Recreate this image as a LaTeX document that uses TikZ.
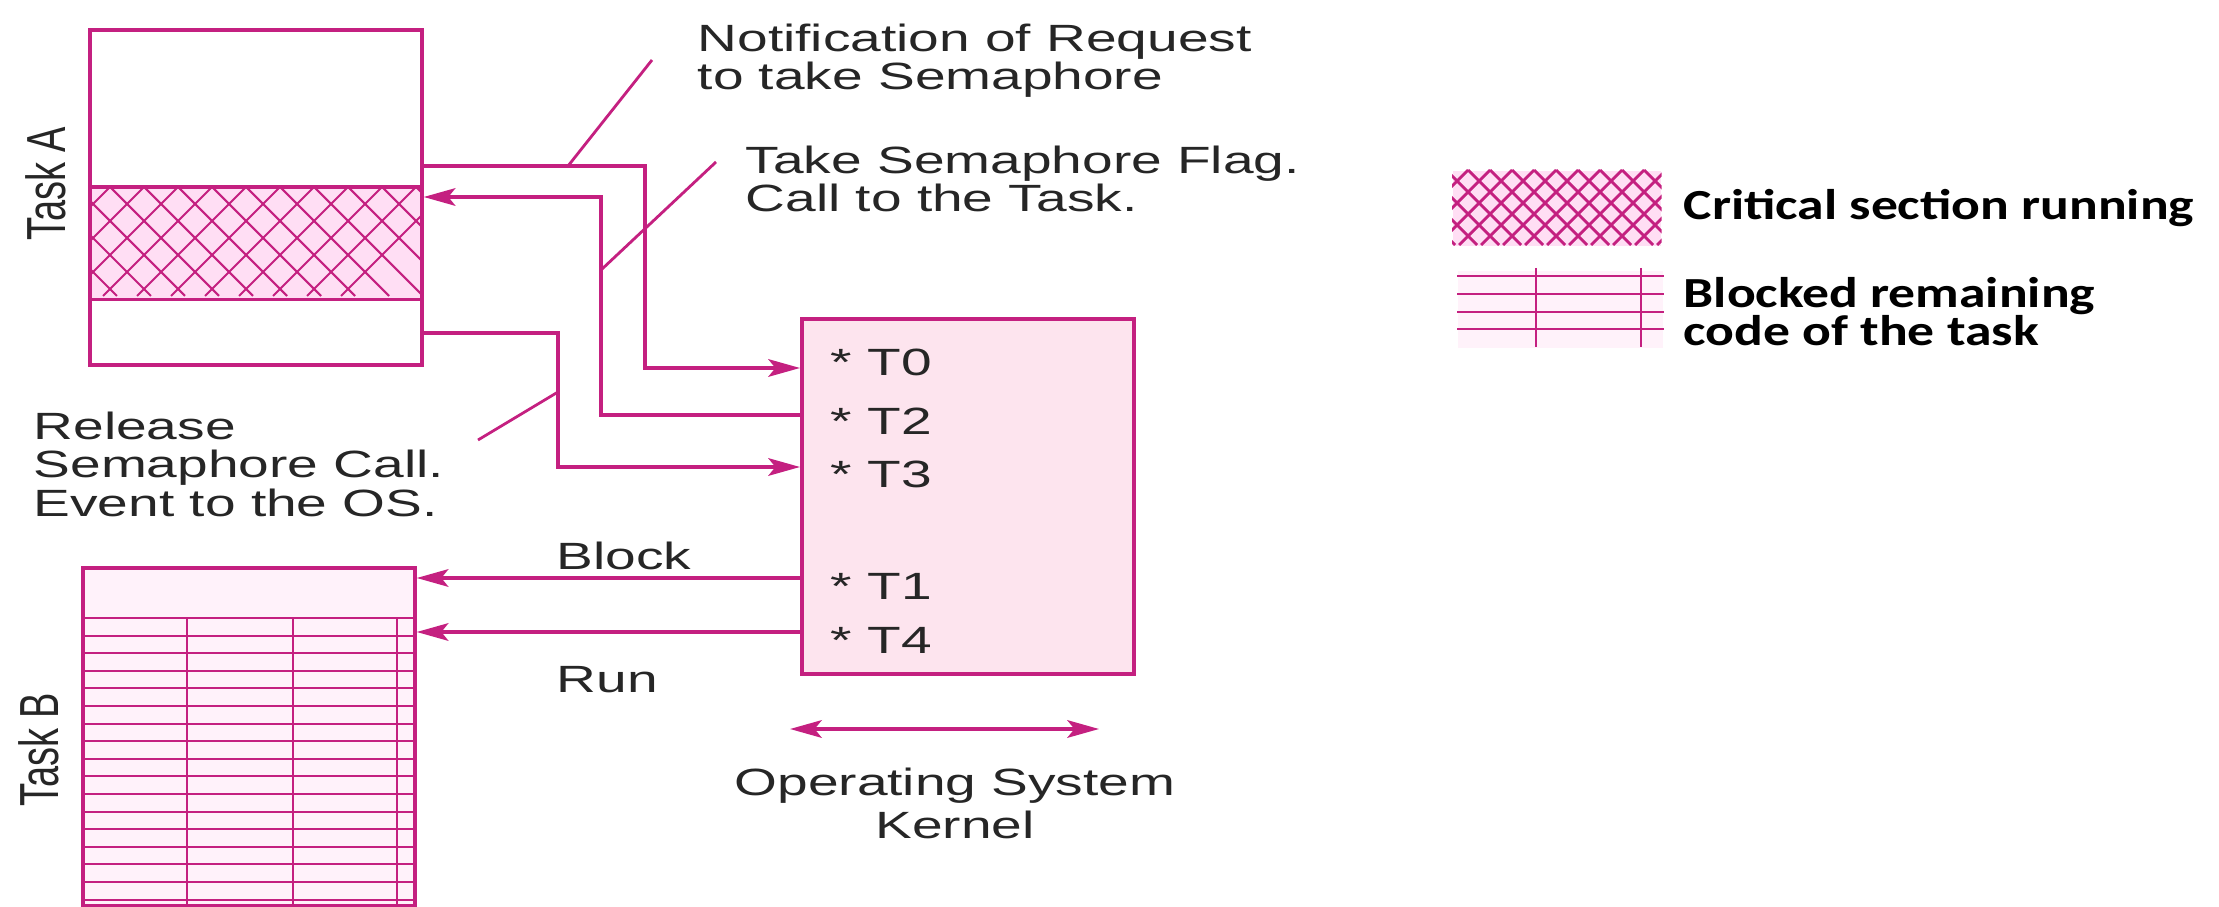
\documentclass[tikz,border=0pt]{standalone}
\usepackage{fontspec}
\setmainfont{Liberation Sans}[FakeStretch=1.45]
\newfontfamily\plainsans{Liberation Sans}
\newfontfamily\legendfont{Carlito}[FakeStretch=1.25]
\usetikzlibrary{arrows.meta}
\definecolor{mag}{RGB}{196,32,128}
\definecolor{kernfill}{RGB}{253,228,238}
\definecolor{hatchfill}{RGB}{255,222,244}
\definecolor{gridfill}{RGB}{255,242,250}
\definecolor{txtc}{RGB}{38,38,38}
\tikzset{
  tip/.tip={Stealth[length=9pt,width=5pt,inset=2pt]},
  wire/.style={draw=mag, line width=1pt},
  arr/.style={wire, -tip},
  dblarr/.style={wire, tip-tip},
  leader/.style={draw=mag, line width=0.8pt},
  hatchline/.style={draw=mag, line width=0.6pt},
  taskbox/.style={draw=mag, line width=1pt, inner sep=0, anchor=north west},
  lbl/.style={font=\fontsize{10.8}{12}\selectfont, text=txtc, inner sep=0, anchor=base west},
  tlbl/.style={font=\fontsize{10.8}{12}\selectfont, text=txtc, inner sep=0, anchor=base west},
  side/.style={font=\plainsans\fontsize{10.8}{11}\selectfont, text=txtc, inner sep=0, rotate=90},
  leg/.style={font=\legendfont\bfseries\fontsize{12.2}{12}\selectfont, text=black, inner sep=0, anchor=base west}
}
\begin{document}
\begin{tikzpicture}[x=0.01cm, y=-0.01cm]
\useasboundingbox (0,0) rectangle (2219,907);

% ---------- Task A: code block with its critical section ----------
\node[taskbox, draw=none, fill=hatchfill, minimum width=3.32cm, minimum height=1.09cm] (critA) at (88,187) {};
\begin{scope}
  \clip (critA.north west) rectangle (critA.south east);
  \foreach \x in {-60,-26,...,470} {
    \draw[hatchline] (\x,187) -- ++(109,109);
    \draw[hatchline] (\x,187) -- ++(-109,109);
  }
\end{scope}
\node[taskbox, minimum width=3.32cm, minimum height=3.35cm] (taskA) at (88,28) {};
\draw[wire] (critA.north west) -- (critA.north east);
\draw[wire] (critA.south west) -- (critA.south east);
\node[side] (taskAl) at (46,184) {\scalebox{1}[1.45]{Task A}};

% ---------- kernel ----------
\node[taskbox, fill=kernfill, minimum width=3.32cm, minimum height=3.55cm] (kern) at (800,317) {};
\node[tlbl] (t0) at (830,376) {* T0};
\node[tlbl] (t2) at (830,435) {* T2};
\node[tlbl] (t3) at (830,488) {* T3};
\node[tlbl] (t1) at (830,600) {* T1};
\node[tlbl] (t4) at (830,653) {* T4};

% ---------- Task B: blocked code ----------
\node[taskbox, fill=gridfill, minimum width=3.32cm, minimum height=3.38cm] (taskB) at (81,566) {};
\foreach \y in {618,635.6,...,900} {
  \draw[hatchline] (taskB.west |- 0,\y) -- (taskB.east |- 0,\y);
}
\foreach \x in {187,293,397} {
  \draw[hatchline] (\x,618) -- (\x,904);
}
\node[side] (taskBl) at (39,750) {\scalebox{1}[1.45]{Task B}};

% ---------- connectors ----------
\coordinate (nv) at (645,166);
\coordinate (tv) at (601,197);
\coordinate (rv) at (558,333);
\draw[arr] (taskA.east |- nv) -- (nv) -- (nv |- 0,368) -- (kern.west |- 0,368);
\draw[arr] (kern.west |- 0,415) -- (tv |- 0,415) -- (tv) -- (taskA.east |- tv);
\draw[arr] (taskA.east |- rv) -- (rv) -- (rv |- 0,467) -- (kern.west |- 0,467);
\draw[arr] (kern.west |- 0,578) -- (taskB.east |- 0,578);
\draw[arr] (kern.west |- 0,632) -- (taskB.east |- 0,632);

% ---------- callouts ----------
\node[lbl] (notif1) at (697,52) {Notification of Request};
\node[lbl] (notif2) at (697,90) {to take Semaphore};
\node[lbl] (take1) at (745,174) {Take Semaphore Flag.};
\node[lbl] (take2) at (745,212) {Call to the Task.};
\node[lbl] (rel1) at (33,440) {Release};
\node[lbl] (rel2) at (33,478) {Semaphore Call.};
\node[lbl] (rel3) at (33,517) {Event to the OS.};
\coordinate (nl) at (652,60);
\coordinate (tl) at (716,162);
\coordinate (rl) at (478,440);
\draw[leader] (568,166) -- (nl);
\draw[leader] (601,270) -- (tl);
\draw[leader] (558,392) -- (rl);

\node[lbl] (blk) at (556,570) {Block};
\node[lbl] (run) at (556,692) {Run};

\coordinate (osl) at (790,729);
\coordinate (osr) at (1099,729);
\draw[dblarr] (osl) -- (osr);
\node[lbl, anchor=base] (os1) at (955,795) {Operating System};
\node[lbl, anchor=base] (os2) at (955,838) {Kernel};

% ---------- legend ----------
\node[inner sep=0, fill=hatchfill, minimum width=2.08cm, minimum height=0.75cm, anchor=north west] (lgA) at (1452,170) {};
\begin{scope}
  \clip (lgA.north west) rectangle (lgA.south east);
  \foreach \x in {1380,1402,...,1740} {
    \draw[hatchline, line width=0.8pt] (\x,170) -- ++(75,75);
    \draw[hatchline, line width=0.8pt] (\x,170) -- ++(-75,75);
  }
\end{scope}
\node[leg] (lgAt) at (1683,220) {Critical section running};

\node[inner sep=0, fill=gridfill, minimum width=2.05cm, minimum height=0.77cm, anchor=north west] (lgB) at (1457,270) {};
\foreach \y in {276,294,312,329} {
  \draw[hatchline, line width=0.8pt] (lgB.west |- 0,\y) -- (lgB.east |- 0,\y);
}
\foreach \x in {1536,1641} {
  \draw[hatchline, line width=0.8pt] (\x,268) -- (\x,347);
}
\node[leg] (lgBt1) at (1683,308) {Blocked remaining};
\node[leg] (lgBt2) at (1683,346) {code of the task};
\end{tikzpicture}
\end{document}
